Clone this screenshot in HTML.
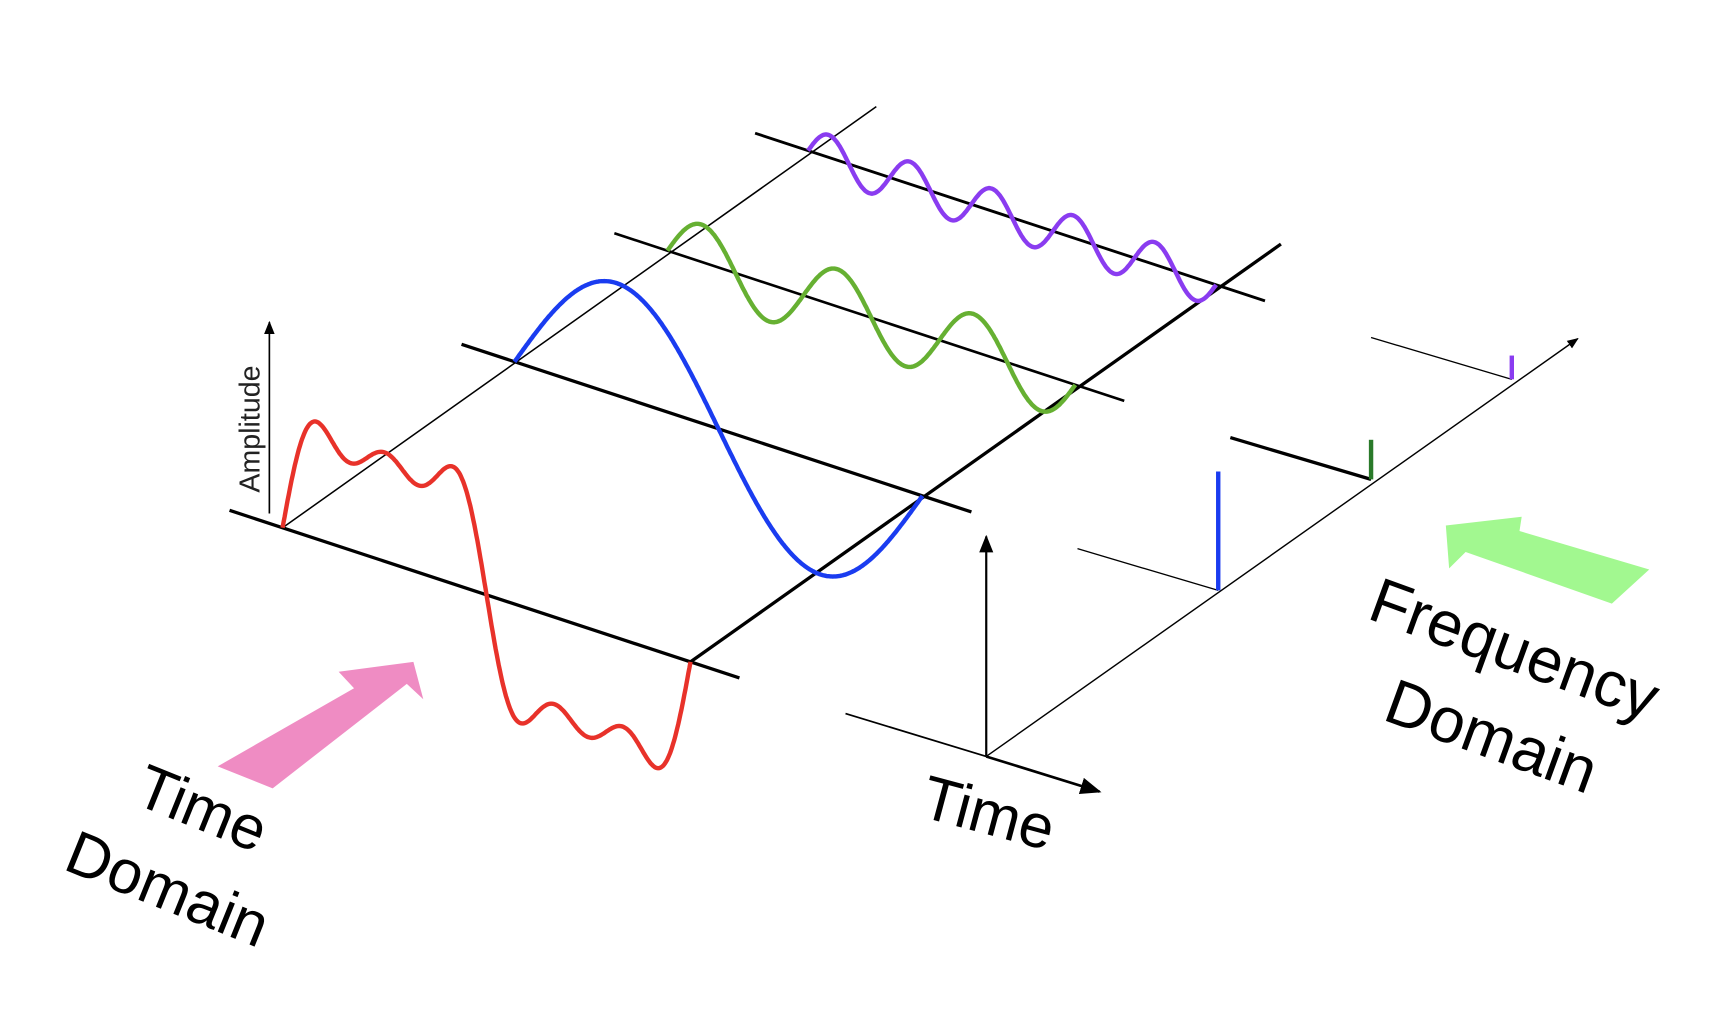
<!DOCTYPE html>
<html><head><meta charset="utf-8"><style>
html,body{margin:0;padding:0;background:#fff;}
svg{display:block;}
text{font-family:"Liberation Sans",sans-serif;}
</style></head><body>
<svg id="chart" width="1724" height="1030" viewBox="0 0 1568 936.8" preserveAspectRatio="none" xmlns="http://www.w3.org/2000/svg">
<defs>
<marker id="ah" viewBox="0 0 10 10" refX="9" refY="5" markerWidth="8" markerHeight="8" orient="auto-start-reverse"><path d="M0,1 L10,5 L0,9 z" fill="#000"/></marker>
</defs>
<g id="axes"></g>
<g id="series"></g>
<g id="spec"></g>
<polygon points="198,697 322,626 308,611 376,602 385,636 370,622 248,717" fill="#ef8cc3"/>
<polygon points="1500,518 1382,483 1384,470 1315,478 1318,517 1333,502 1466,549" fill="#a2f890"/>
<text transform="translate(236,448) rotate(-90)" font-size="26" fill="#222">Amplitude</text>
<text transform="translate(120,730) rotate(22)" font-size="56">Time</text>
<text transform="translate(56,790) rotate(22)" font-size="56">Domain</text>
<text transform="translate(835,742) rotate(15)" font-size="56">Time</text>
<text transform="translate(1242,562) rotate(20)" font-size="58">Frequency</text>
<text transform="translate(1256,654) rotate(20)" font-size="58">Domain</text>
</svg>
<script>
const harmonics = [1, 3, 5];
const amplitudes = [1.0, 0.333, 0.2];
const seriesNames = ['fundamental', 'third-harmonic', 'fifth-harmonic'];
const colors = ['#1a3cf0', '#66b032', '#8a3cf0'];
const spikeColors = ['#1a3cf0', '#2a7a2a', '#8a3cf0'];
const sumColor = '#e8322a';

const NS = 'http://www.w3.org/2000/svg';
const O = [257, 480];
const TV = [371, 122];
const AMP = 102;
const depth = [[0,0],[211,-151],[350,-252],[478,-343]];
const SO = [897, 688];
function pt(t, plane, a){ const d=depth[plane]; return [O[0]+d[0]+TV[0]*t, O[1]+d[1]+TV[1]*t - AMP*a]; }
function line(g,x1,y1,x2,y2,w,name,marker){
  const l=document.createElementNS(NS,'line');
  l.setAttribute('x1',x1);l.setAttribute('y1',y1);l.setAttribute('x2',x2);l.setAttribute('y2',y2);
  l.setAttribute('stroke','#000');l.setAttribute('stroke-width',w);
  if(marker) l.setAttribute('marker-end','url(#ah)');
  
  
  g.appendChild(l);
}
const ax=document.getElementById('axes');
const lw=[3,3,2.4,2.6];
for(let p=0;p<4;p++){
  const a=pt(-0.13,p,0), b=pt(1.12,p,0);
  line(ax,a[0],a[1],b[0],b[1],lw[p],'time-baseline');
}
{ const a=pt(0,0,0); line(ax,a[0],a[1],797,97,1.4,'frequency-depth-axis-start'); }
{ const a=pt(1,0,0); line(ax,a[0],a[1],1165,222,3,'frequency-depth-axis-end'); }
line(ax,245,467,245,293,1.5,'amplitude-axis',true);

const sg=document.getElementById('series');
function drawCurve(fn, plane, color, name, k){
  let d='';
  for(let i=0;i<=400;i++){ const t=i/400; const q=pt(t,plane,fn(t)*k); d+=(i?'L':'M')+q[0].toFixed(1)+','+q[1].toFixed(1); }
  const p=document.createElementNS(NS,'path');
  p.setAttribute('d',d);p.setAttribute('fill','none');p.setAttribute('stroke',color);p.setAttribute('stroke-width',4);
  
  
  sg.appendChild(p);
}
drawCurve(t=>harmonics.reduce((s,h,i)=>s+amplitudes[i]*Math.sin(2*Math.PI*h*t),0),0,sumColor,'sum-signal',1.12);
harmonics.forEach((h,i)=>drawCurve(t=>amplitudes[i]*Math.sin(2*Math.PI*h*t),i+1,colors[i],seriesNames[i]+'-wave',1));

const sp=document.getElementById('spec');
line(sp,769,649,SO[0],SO[1],1.6,'spectrum-front-line');
line(sp,SO[0],SO[1],SO[0],488,2,'spectrum-amplitude-axis',true);
line(sp,SO[0],SO[1],1000,720,2.4,'time-axis-arrow',true);
line(sp,SO[0],SO[1],1435,308,1.3,'frequency-axis',true);
const slw=[1.2,3,1.2];
harmonics.forEach((h,i)=>{
  const d=depth[i+1]; const bx=SO[0]+d[0], by=SO[1]+d[1];
  line(sp,bx-128,by-38,bx,by,slw[i],'spectrum-baseline');
  const s=document.createElementNS(NS,'line');
  s.setAttribute('x1',bx);s.setAttribute('y1',by);s.setAttribute('x2',bx);s.setAttribute('y2',by-AMP*amplitudes[i]*1.06);
  s.setAttribute('stroke',spikeColors[i]);s.setAttribute('stroke-width',4);
  
  
  sp.appendChild(s);
});
</script>
</body></html>
